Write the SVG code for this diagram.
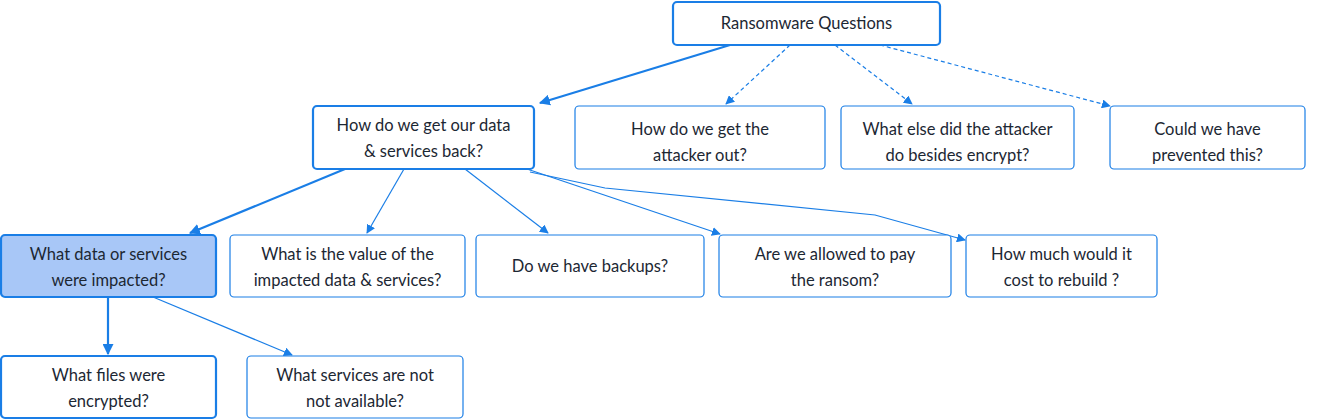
<svg xmlns="http://www.w3.org/2000/svg" width="1322" height="420" viewBox="0 0 1322 420">
<style>
.n rect{fill:#fff;stroke:#1a7ee6;stroke-width:1.2}
.n.b rect{stroke-width:2.2}
.n.f rect{fill:#a8c7f7}
text{font-family:Lato,"Noto Sans",sans-serif;font-size:16.5px;fill:#1c2733;text-anchor:middle}
.c path{fill:none;stroke:#1a7ee6;stroke-width:1.2}
.c path.t{stroke-width:2.2}
.c path.d{stroke-dasharray:4 3}
</style>
<defs>
<marker id="a" viewBox="0 0 10 10" refX="9" refY="5" markerWidth="9" markerHeight="9" markerUnits="userSpaceOnUse" orient="auto"><path d="M0,0L10,5L0,10z" fill="#1a7ee6"/></marker>
<marker id="at" viewBox="0 0 10 10" refX="9" refY="5" markerWidth="11" markerHeight="11" markerUnits="userSpaceOnUse" orient="auto"><path d="M0,0L10,5L0,10z" fill="#1a7ee6"/></marker>
</defs>
<g class="c">
<path class="t" d="M730,45L540,103" marker-end="url(#at)"/>
<path class="d" d="M790,45L726,104" marker-end="url(#a)"/>
<path class="d" d="M835,45L912,104" marker-end="url(#a)"/>
<path class="d" d="M880,45L1110,106" marker-end="url(#a)"/>
<path class="t" d="M345,169L190,233" marker-end="url(#at)"/>
<path d="M404,169L367,233" marker-end="url(#a)"/>
<path d="M465,169L548,233" marker-end="url(#a)"/>
<path d="M527,169L720,234" marker-end="url(#a)"/>
<path d="M530,172L605,188L875,215L965,240" marker-end="url(#a)"/>
<path class="t" d="M108,297L108,354" marker-end="url(#at)"/>
<path d="M153,297L292,355" marker-end="url(#a)"/>
</g>
<g id="root" class="n b"><rect x="673" y="2" width="267" height="43" rx="4"/><text x="806.5" y="29">Ransomware Questions</text></g>
<g id="data" class="n b"><rect x="313" y="106" width="221" height="63" rx="4"/><text x="423.5" y="131">How do we get our data</text><text x="423.5" y="157">&amp; services back?</text></g>
<g id="attacker" class="n"><rect x="575" y="106" width="250" height="63" rx="4"/><text x="700" y="135">How do we get the</text><text x="700" y="161">attacker out?</text></g>
<g id="else" class="n"><rect x="841" y="106" width="233" height="63" rx="4"/><text x="957.5" y="135">What else did the attacker</text><text x="957.5" y="161">do besides encrypt?</text></g>
<g id="prevent" class="n"><rect x="1110" y="106" width="195" height="63" rx="4"/><text x="1207.5" y="135">Could we have</text><text x="1207.5" y="161">prevented this?</text></g>
<g id="impacted" class="n b f"><rect x="1" y="235" width="215" height="62" rx="4"/><text x="108.5" y="260">What data or services</text><text x="108.5" y="286">were impacted?</text></g>
<g id="value" class="n"><rect x="230" y="235" width="235" height="62" rx="4"/><text x="347.5" y="260">What is the value of the</text><text x="347.5" y="286">impacted data &amp; services?</text></g>
<g id="backups" class="n"><rect x="476" y="235" width="228" height="62" rx="4"/><text x="590" y="272">Do we have backups?</text></g>
<g id="pay" class="n"><rect x="719" y="235" width="232" height="62" rx="4"/><text x="835" y="260">Are we allowed to pay</text><text x="835" y="286">the ransom?</text></g>
<g id="rebuild" class="n"><rect x="966" y="235" width="191" height="62" rx="4"/><text x="1061.5" y="260">How much would it</text><text x="1061.5" y="286">cost to rebuild ?</text></g>
<g id="files" class="n b"><rect x="1" y="356" width="215" height="62" rx="4"/><text x="108.5" y="381">What files were</text><text x="108.5" y="407">encrypted?</text></g>
<g id="services" class="n"><rect x="247" y="356" width="216" height="62" rx="4"/><text x="355" y="381">What services are not</text><text x="355" y="407">not available?</text></g>
</svg>
